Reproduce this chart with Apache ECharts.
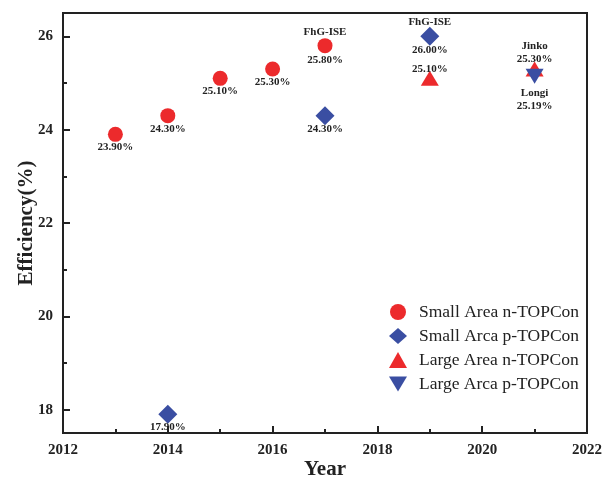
<!DOCTYPE html>
<html>
<head>
<meta charset="utf-8">
<script src="https://cdn.jsdelivr.net/npm/echarts@6/dist/echarts.min.js"></script>
<style>
  html, body { margin: 0; padding: 0; background: #fff; }
  #chart { width: 602px; height: 480px; }
</style>
</head>
<body>
<div id="chart"></div>
<script>
// Record efficiencies of TOPCon solar cells by year
const smallNYears = [2013, 2014, 2015, 2016, 2017];
const smallNEff   = [23.9, 24.3, 25.1, 25.3, 25.8];
const smallNNotes = ['', '', '', '', 'FhG-ISE'];

const smallPYears = [2014, 2017, 2019];
const smallPEff   = [17.9, 24.3, 26.0];
const smallPNotes = ['', '', 'FhG-ISE'];

const largeNYears = [2019, 2021];
const largeNEff   = [25.1, 25.3];
const largeNNotes = ['', 'Jinko'];

const largePYears = [2021];
const largePEff   = [25.19];
const largePNotes = ['Longi'];

const seriesNames = ['Small Area n-TOPCon', 'Small Arca p-TOPCon', 'Large Area n-TOPCon', 'Large Arca p-TOPCon'];
const xTicks = [2012, 2014, 2016, 2018, 2020, 2022];
const yTicks = [18, 20, 22, 24, 26];
const yMinorTicks = [19, 21, 23, 25];
const yRange = [17.5, 26.5];

const RED = '#ec2a2c';
const BLUE = '#3a4ea2';
const INK = '#222';
const FONT = '"Liberation Serif", "Times New Roman", serif';
const DOWN_TRIANGLE = 'path://M0,0 L18,0 L9,15 Z';

const pct = v => v.toFixed(2) + '%';

// label layout: 'split' puts the note above and value below the mark,
// 'above' stacks both over it, 'below' stacks both under it
function labelFor(note, value, mode) {
  const base = {
    show: true, position: 'inside', fontFamily: FONT, fontWeight: 'bold',
    fontSize: 11, color: INK, lineHeight: 13
  };
  if (!note) {
    if (mode === 'above') return Object.assign(base, { formatter: pct(value), offset: [0, -9] });
    return Object.assign(base, { formatter: pct(value), offset: [0, 13] });
  }
  if (mode === 'split') return Object.assign(base, { formatter: note + '\n\n' + pct(value), lineHeight: 14 });
  if (mode === 'above') return Object.assign(base, { formatter: note + '\n' + pct(value), offset: [0, -16] });
  return Object.assign(base, { formatter: note + '\n' + pct(value), offset: [0, 24] });
}

function points(years, vals, notes, modes) {
  return years.map((y, i) => ({
    value: [y, vals[i]],
    label: labelFor(notes[i], vals[i], modes[i])
  }));
}

const tickLine = { color: INK, width: 2 };

const chart = echarts.init(document.getElementById('chart'));
chart.setOption({
  animation: false,
  backgroundColor: '#fff',
  grid: {
    left: 63, right: 15, top: 13, bottom: 47, outerBoundsMode: 'none',
    show: true, borderColor: INK, borderWidth: 2, backgroundColor: 'transparent'
  },
  legend: {
    orient: 'vertical', left: 384, top: 298, itemGap: 6, itemWidth: 18, itemHeight: 16,
    textStyle: { fontFamily: FONT, fontSize: 17.5, color: INK, padding: [0, 0, 0, 7] },
    data: [
      { name: seriesNames[0] },
      { name: seriesNames[1] },
      { name: seriesNames[2] },
      { name: seriesNames[3], icon: DOWN_TRIANGLE }
    ]
  },
  xAxis: {
    type: 'value', min: xTicks[0], max: xTicks[xTicks.length - 1], interval: 2,
    name: 'Year', nameLocation: 'middle', nameGap: 26, nameMoveOverlap: false,
    nameTextStyle: { fontFamily: FONT, fontWeight: 'bold', fontSize: 21, color: INK },
    axisLine: { show: true, lineStyle: { color: INK, width: 2 } },
    axisTick: { show: true, inside: true, length: 7, lineStyle: tickLine },
    minorTick: { show: true, splitNumber: 2, length: 4, lineStyle: tickLine },
    splitLine: { show: false },
    axisLabel: { fontFamily: FONT, fontWeight: 'bold', fontSize: 15, color: INK, margin: 10, formatter: v => String(v) }
  },
  yAxis: [
    {
      type: 'value', min: yRange[0], max: yRange[1],
      name: 'Efficiency(%)', nameLocation: 'middle', nameGap: 26, nameMoveOverlap: false,
      nameTextStyle: { fontFamily: FONT, fontWeight: 'bold', fontSize: 21, color: INK },
      axisLine: { show: true, lineStyle: { color: INK, width: 2 } },
      axisTick: { show: true, inside: true, length: 7, lineStyle: tickLine, customValues: yTicks },
      splitLine: { show: false },
      axisLabel: { fontFamily: FONT, fontWeight: 'bold', fontSize: 15, color: INK, margin: 10, customValues: yTicks }
    },
    {
      // short ticks at the odd values, sharing the left edge
      type: 'value', min: yRange[0], max: yRange[1], position: 'left',
      axisLine: { show: false },
      axisTick: { show: true, inside: true, length: 4, lineStyle: tickLine, customValues: yMinorTicks },
      axisLabel: { show: false, customValues: yMinorTicks },
      splitLine: { show: false }
    }
  ],
  series: [
    {
      name: seriesNames[0], type: 'scatter', symbol: 'circle', symbolSize: 15,
      itemStyle: { color: RED, opacity: 1 },
      data: points(smallNYears, smallNEff, smallNNotes, ['below', 'below', 'below', 'below', 'split'])
    },
    {
      name: seriesNames[1], type: 'scatter', symbol: 'diamond', symbolSize: [19, 19],
      itemStyle: { color: BLUE, opacity: 1 },
      data: points(smallPYears, smallPEff, smallPNotes, ['below', 'below', 'split'])
    },
    {
      name: seriesNames[2], type: 'scatter', symbol: 'triangle', symbolSize: [18, 15],
      itemStyle: { color: RED, opacity: 1 },
      data: points(largeNYears, largeNEff, largeNNotes, ['above', 'above'])
    },
    {
      name: seriesNames[3], type: 'scatter', symbol: DOWN_TRIANGLE, symbolSize: [18, 15], symbolOffset: [0, 2],
      itemStyle: { color: BLUE, opacity: 1 },
      data: points(largePYears, largePEff, largePNotes, ['below'])
    }
  ]
});
</script>
</body>
</html>
